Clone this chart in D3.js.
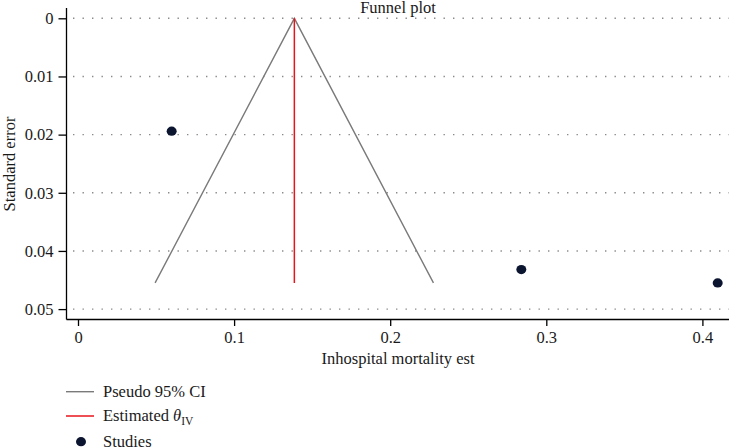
<!DOCTYPE html>
<html>
<head>
<meta charset="utf-8">
<script src="https://cdn.jsdelivr.net/npm/d3@7"></script>
<style>
  html, body { margin: 0; padding: 0; background: #fff; }
  svg { display: block; }
  text { font-family: "Liberation Serif", "Times New Roman", serif; fill: #1a1a1a; }
</style>
</head>
<body>
<svg id="chart" width="729" height="447"></svg>
<script>
// ---- Data ----
const studyEst = [0.060, 0.284, 0.4098];
const studySE  = [0.0194, 0.0432, 0.0455];
const thetaIV = 0.1386;
const seMax = 0.0455;
const funnelX = [0.0494, 0.1386, 0.2277];
const funnelY = [0.0455, 0.0, 0.0455];
const xTicks = [0, 0.1, 0.2, 0.3, 0.4];
const yTicks = [0, 0.01, 0.02, 0.03, 0.04, 0.05];
const xTickLabels = ["0", "0.1", "0.2", "0.3", "0.4"];
const yTickLabels = ["0", "0.01", "0.02", "0.03", "0.04", "0.05"];

const svg = d3.select("#chart");
const FS = "16.5px";

const x = d3.scaleLinear().domain([0, 0.4]).range([78, 702.4]);
const y = d3.scaleLinear().domain([0, 0.05]).range([18.3, 309.1]);

const axisX = 66.5, axisY = 319.5;

// Gridlines
svg.append("g").selectAll("line").data(yTicks).join("line")
  .attr("x1", 73).attr("x2", 729)
  .attr("y1", d => y(d)).attr("y2", d => y(d))
  .attr("stroke", "#8a8a8a").attr("stroke-width", 1.4)
  .attr("stroke-dasharray", "1.4,8.1");

// Y axis
const gy = svg.append("g").attr("transform", `translate(${axisX},0)`)
  .call(d3.axisLeft(y).tickValues(yTicks).tickFormat((d, i) => yTickLabels[i]).tickSize(8).tickPadding(5));
gy.select(".domain").remove();
gy.selectAll(".tick line").attr("stroke", "#000").attr("stroke-width", 1.3);
gy.selectAll(".tick text").style("font-size", FS).style("font-family", "Liberation Serif").attr("fill", "#1a1a1a");

// X axis
const gx = svg.append("g").attr("transform", `translate(0,${axisY})`)
  .call(d3.axisBottom(x).tickValues(xTicks).tickFormat((d, i) => xTickLabels[i]).tickSize(6.5).tickPadding(5.2));
gx.select(".domain").remove();
gx.selectAll(".tick line").attr("stroke", "#000").attr("stroke-width", 1.3);
gx.selectAll(".tick text").style("font-size", FS).style("font-family", "Liberation Serif").attr("fill", "#1a1a1a");

// Axis lines
svg.append("line").attr("x1", axisX).attr("x2", axisX).attr("y1", 8).attr("y2", axisY)
  .attr("stroke", "#000").attr("stroke-width", 1.3);
svg.append("line").attr("x1", axisX).attr("x2", 729).attr("y1", axisY).attr("y2", axisY)
  .attr("stroke", "#000").attr("stroke-width", 1.3);

// Funnel
const line = d3.line().x(d => x(d[0])).y(d => y(d[1]));
svg.append("path").datum(funnelX.map((v, i) => [v, funnelY[i]]))
  .attr("d", line).attr("fill", "none").attr("stroke", "#7a7a7a").attr("stroke-width", 1.4);

// Estimated theta line
svg.append("line").attr("x1", x(thetaIV)).attr("x2", x(thetaIV))
  .attr("y1", y(0)).attr("y2", y(seMax))
  .attr("stroke", "#e8141c").attr("stroke-width", 1.5);

// Studies
svg.append("g").selectAll("ellipse").data(studyEst).join("ellipse")
  .attr("cx", (d) => x(d)).attr("cy", (d, i) => y(studySE[i]))
  .attr("rx", 5).attr("ry", 4.6).attr("fill", "#0b1530");

// Title
svg.append("text").attr("x", 398).attr("y", 13).attr("text-anchor", "middle")
  .style("font-size", FS).text("Funnel plot");

// Axis titles
svg.append("text").attr("x", 398).attr("y", 364).attr("text-anchor", "middle")
  .style("font-size", FS).text("Inhospital mortality est");
svg.append("text").attr("transform", "translate(15,164) rotate(-90)").attr("text-anchor", "middle")
  .style("font-size", FS).text("Standard error");

// Legend
svg.append("line").attr("x1", 66).attr("x2", 94).attr("y1", 391.7).attr("y2", 391.7)
  .attr("stroke", "#7a7a7a").attr("stroke-width", 1.4);
svg.append("text").attr("x", 103).attr("y", 397).style("font-size", FS).text("Pseudo 95% CI");

svg.append("line").attr("x1", 66).attr("x2", 94).attr("y1", 416).attr("y2", 416)
  .attr("stroke", "#e8141c").attr("stroke-width", 1.5);
const t2 = svg.append("text").attr("x", 103).attr("y", 421).style("font-size", FS);
t2.append("tspan").text("Estimated ");
t2.append("tspan").style("font-style", "italic").text("θ");
t2.append("tspan").attr("dy", 4).style("font-size", "11.5px").text("IV");

svg.append("ellipse").attr("cx", 81).attr("cy", 441.7).attr("rx", 5).attr("ry", 4.6).attr("fill", "#0b1530");
svg.append("text").attr("x", 103).attr("y", 446.5).style("font-size", FS).text("Studies");
</script>
</body>
</html>
